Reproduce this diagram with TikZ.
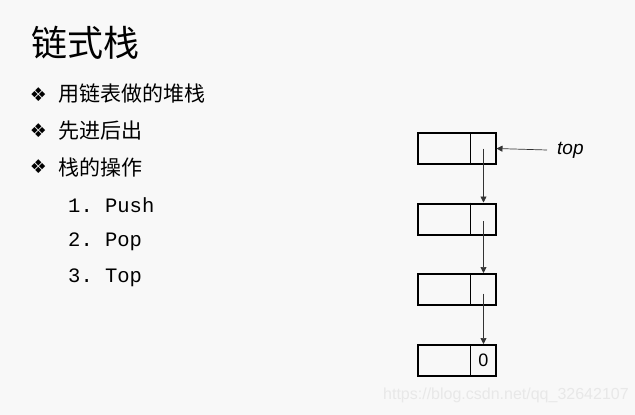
\documentclass[tikz,border=0pt]{standalone}
\usepackage{fontspec}
\setmainfont{Liberation Sans}
\setmonofont{Liberation Mono}
\newfontfamily\cjk{Noto Sans CJK SC}
\newfontfamily\dingfont{DejaVu Sans}
\usetikzlibrary{arrows.meta}

\definecolor{slidebg}{HTML}{F8F8F8}
\definecolor{markgray}{HTML}{E8E8E8}
\definecolor{linkgray}{HTML}{333333}

\begin{document}
\begin{tikzpicture}[x=1pt, y=-1pt,
    cell/.style={draw, line width=2pt, minimum width=78pt, minimum height=31pt, inner sep=0pt},
    bullet/.style={font=\dingfont\fontsize{19}{21}\selectfont, inner sep=0pt},
    item/.style={anchor=west, font=\cjk\fontsize{21}{24}\selectfont, inner sep=0pt},
    opitem/.style={anchor=west, font=\ttfamily\fontsize{20.5}{24}\selectfont, inner sep=0pt},
    link/.style={draw=linkgray, line width=0.7pt, -{Triangle[length=6pt, width=6pt]}}
]

    % --- background ---
    \fill[slidebg] (0,0) rectangle (635,415);
    \useasboundingbox (0,0) rectangle (635,415);

    % --- title and list ---
    \node[anchor=west, inner sep=0pt, font=\cjk\fontsize{36}{40}\selectfont] (title) at (31,43) {链式栈};

    \node[bullet] (m1) at (38.5,95) {❖};
    \node[bullet] (m2) at (38.5,131) {❖};
    \node[bullet] (m3) at (38.5,167) {❖};
    \node[item] (t1) at (58,94) {用链表做的堆栈};
    \node[item] (t2) at (58,131) {先进后出};
    \node[item] (t3) at (58,167) {栈的操作};

    \node[opitem] (op1) at (68,205) {1. Push};
    \node[opitem] (op2) at (68,242) {2. Pop};
    \node[opitem] (op3) at (68,278) {3. Top};

    % --- linked stack ---
    \node[cell] (b1) at (456.5,148.5) {};
    \node[cell] (b2) at (456.5,219) {};
    \node[cell] (b3) at (456.5,289.5) {};
    \node[cell] (b4) at (456.5,360.5) {};

    \foreach \b in {b1,b2,b3,b4}
        \draw[line width=0.8pt] ([xshift=-26.5pt]\b.north east) -- ([xshift=-26.5pt]\b.south east);

    \node[inner sep=0pt, font=\fontsize{18}{20}\selectfont] (nil) at ([xshift=-13pt]b4.east) {0};

    % pointers between nodes
    \draw[link] ([xshift=-13pt]b1.east) -- ([xshift=-13pt]b2.north east);
    \draw[link] ([xshift=-13pt, yshift=-2pt]b2.east) -- ([xshift=-13pt]b3.north east);
    \draw[link] ([xshift=-13pt, yshift=-4pt]b3.east) -- ([xshift=-13pt]b4.north east);

    % top pointer
    \node[anchor=west, inner sep=0pt, font=\itshape\fontsize{19}{22}\selectfont] (toplbl) at (557,150) {top};
    \draw[link] ([xshift=-10pt]toplbl.west) -- (b1.east);

    % --- watermark ---
    \node[anchor=west, inner sep=0pt, text=markgray, font=\fontsize{16}{18}\selectfont] (mark) at (383,395) {https://blog.csdn.net/qq\_32642107};

\end{tikzpicture}
\end{document}
